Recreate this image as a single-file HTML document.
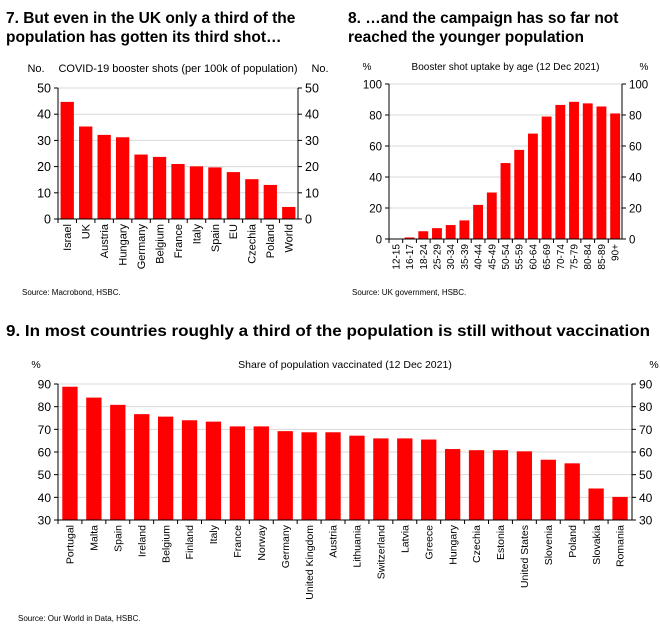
<!DOCTYPE html>
<html><head><meta charset="utf-8"><style>
body{margin:0;background:#fff;font-family:"Liberation Sans",sans-serif}
svg text{font-family:"Liberation Sans",sans-serif}
</style></head><body>
<svg id="s" width="660" height="630">
<text x="6" y="23" font-size="15.5" font-weight="bold">7. But even in the UK only a third of the</text>
<text x="6" y="42" font-size="15.5" font-weight="bold">population has gotten its third shot…</text>
<text x="348" y="23" font-size="15.5" font-weight="bold">8. …and the campaign has so far not</text>
<text x="348" y="42" font-size="15.5" font-weight="bold">reached the younger population</text>
<text x="6" y="336" font-size="16" font-weight="bold" textLength="644" lengthAdjust="spacingAndGlyphs">9. In most countries roughly a third of the population is still without vaccination</text>
<text x="22" y="295" font-size="8">Source: Macrobond, HSBC.</text>
<text x="352" y="295" font-size="8">Source: UK government, HSBC.</text>
<text x="18" y="621" font-size="8">Source: Our World in Data, HSBC.</text>
</svg>
<script>
const cats1=["Israel","UK","Austria","Hungary","Germany","Belgium","France","Italy","Spain","EU","Czechia","Poland","World"];
const vals1=[44.7,35.3,32.1,31.2,24.6,23.7,21,20.1,19.7,17.9,15.2,13,4.6];
const ticks1=[0,10,20,30,40,50];
const cats2=["12-15","16-17","18-24","25-29","30-34","35-39","40-44","45-49","50-54","55-59","60-64","65-69","70-74","75-79","80-84","85-89","90+"];
const vals2=[0,1,5,7,9,12,22,30,49,57.5,68,79,86.5,88.5,87.5,85.5,81];
const ticks2=[0,20,40,60,80,100];
const cats3=["Portugal","Malta","Spain","Ireland","Belgium","Finland","Italy","France","Norway","Germany","United Kingdom","Austria","Lithuania","Switzerland","Latvia","Greece","Hungary","Czechia","Estonia","United States","Slovenia","Poland","Slovakia","Romania"];
const vals3=[88.8,84,80.8,76.7,75.6,74,73.4,71.3,71.3,69.2,68.7,68.7,67.2,66,66,65.5,61.3,60.8,60.8,60.3,56.6,55,43.9,40.2];
const ticks3=[30,40,50,60,70,80,90];
const S=document.getElementById('s');
function el(t,a,txt){const e=document.createElementNS('http://www.w3.org/2000/svg',t);for(const k in a)e.setAttribute(k,a[k]);if(txt!==undefined)e.textContent=txt;S.appendChild(e);return e;}
function chart(o,cats,vals,ticks){
 const min=ticks[0],max=ticks[ticks.length-1];
 const y=v=>o.y0+(o.y1-o.y0)*(v-min)/(max-min);
 const step=(o.x1-o.x0)/cats.length;
 const x=i=>o.x0+step*i;
 let t=el('text',{x:(o.x0+o.x1)/2,y:o.ty,'font-size':o.fs,'text-anchor':'middle'},o.title);
 
 t=el('text',{x:o.x0-22,y:o.ty,'font-size':o.fs,'text-anchor':'middle'},o.unit);
 
 t=el('text',{x:o.x1+22,y:o.ty,'font-size':o.fs,'text-anchor':'middle'},o.unit);
 
 ticks.forEach(v=>{
  const yy=y(v);
  if(v!==min){const g=el('line',{x1:o.x0,x2:o.x1,y1:yy,y2:yy,stroke:'#d9d9d9','stroke-width':1});
   }
  let a=el('line',{x1:o.x0-4,x2:o.x0,y1:yy,y2:yy,stroke:'#000'});
  
  a=el('line',{x1:o.x1,x2:o.x1+4,y1:yy,y2:yy,stroke:'#000'});
  
  let l=el('text',{x:o.x0-7,y:yy+4.5,'font-size':o.lfs,'text-anchor':'end'},v);
  
  l=el('text',{x:o.x1+7,y:yy+4.5,'font-size':o.lfs},v);
  
 });
 cats.forEach((c,i)=>{
  const bw=step*o.bf,bx=x(i)+(step-bw)/2;
  const r=el('rect',{x:bx,y:y(vals[i]),width:bw,height:Math.max(0,y(min)-y(vals[i])),fill:'#ff0000'});
  
  
  const tk=el('line',{x1:x(i),x2:x(i),y1:o.y0,y2:o.y0+4,stroke:'#000'});
  
  const cx=x(i)+step/2+o.cfs*0.35;
  const tl=el('text',{x:cx,y:o.y0+5,'font-size':o.cfs,'text-anchor':'end',transform:`rotate(-90 ${cx} ${o.y0+5})`},c);
  
 });
 let ax=el('line',{x1:o.x0,x2:o.x0,y1:o.y1,y2:o.y0,stroke:'#000'});
 
 ax=el('line',{x1:o.x1,x2:o.x1,y1:o.y1,y2:o.y0,stroke:'#000'});
 
 ax=el('line',{x1:o.x0,x2:o.x1,y1:o.y0,y2:o.y0,stroke:'#000'});
 
}
chart({id:'c7',x0:58,x1:298,y0:219,y1:88,ty:72,fs:11,lfs:12.5,cfs:11,bf:0.72,title:'COVID-19 booster shots (per 100k of population)',unit:'No.'},cats1,vals1,ticks1);
chart({id:'c8',x0:389,x1:622,y0:239,y1:84,ty:70,fs:10,lfs:11.5,cfs:10,bf:0.72,title:'Booster shot uptake by age (12 Dec 2021)',unit:'%'},cats2,vals2,ticks2);
chart({id:'c9',x0:58,x1:632,y0:520,y1:384,ty:368,fs:10.5,lfs:12,cfs:10.5,bf:0.64,title:'Share of population vaccinated (12 Dec 2021)',unit:'%'},cats3,vals3,ticks3);
</script>
</body></html>
